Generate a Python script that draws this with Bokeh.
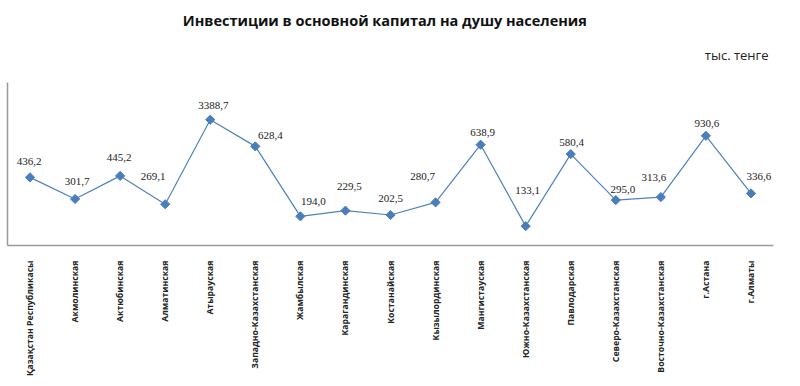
from bokeh.plotting import figure
from bokeh.models import ColumnDataSource, FixedTicker, Title, LabelSet
from bokeh.embed import file_html
from bokeh.resources import INLINE
import math

# ---- data ----
regions = [
    "Қазақстан Республикасы", "Акмолинская", "Актюбинская", "Алматинская",
    "Атырауская", "Западно-Казахстанская", "Жамбылская", "Карагандинская",
    "Костанайская", "Кызылординская", "Мангистауская", "Южно-Казахстанская",
    "Павлодарская", "Северо-Казахстанская", "Восточно-Казахстанская",
    "г.Астана", "г.Алматы",
]
# plotted heights
values = [436.2, 301.7, 445.2, 269.1, 794.0, 628.4, 194.0, 229.5, 202.5,
          280.7, 638.9, 133.1, 580.4, 295.0, 313.6, 694.0, 336.6]
# data labels as printed on the chart
value_labels = ["436,2", "301,7", "445,2", "269,1", "3388,7", "628,4", "194,0",
                "229,5", "202,5", "280,7", "638,9", "133,1", "580,4", "295,0",
                "313,6", "930,6", "336,6"]

# ---- styling: label offsets in pixels (dx right, dy up) ----
label_dx = [-1, 2, -1, -12, 3, 15, 13, 4, 0, -13, 2, 2, 1, 7, -7, 1, 8]
label_dy = [16, 17, 18, 28, 14, 11, 15, 24, 16, 26, 12, 36, 12, 11, 20, 12, 17]

src = ColumnDataSource(dict(x=regions, y=values, lab=value_labels,
                            dx=label_dx, dy=label_dy))

p = figure(width=800, height=386, x_range=regions, y_range=(13, 1025),
           output_backend="svg", toolbar_location=None,
           min_border_left=7, min_border_right=27,
           min_border_top=82, min_border_bottom=141)

p.line("x", "y", source=src, line_color="#4f81bd", line_width=1.2)
p.scatter("x", "y", source=src, marker="square", angle=math.pi / 4, size=6.5,
          fill_color="#4a7ebb", line_color="#4a7ebb")

labels = LabelSet(x="x", y="y", text="lab", source=src,
                  x_offset="dx", y_offset="dy",
                  text_align="center", text_baseline="middle",
                  text_font="Open Sans", text_font_size="11px",
                  text_color="#222222")
p.add_layout(labels)

p.grid.visible = False
p.outline_line_color = None
p.background_fill_color = "white"
p.border_fill_color = "white"

xa = p.xaxis[0]
xa.axis_line_color = "#9a9a9a"
xa.axis_line_width = 1.5
xa.major_tick_line_color = None
xa.minor_tick_line_color = None
xa.major_label_orientation = math.pi / 2
xa.major_label_text_font = "Open Sans"
xa.major_label_text_font_style = "bold"
xa.major_label_text_font_size = "8.7px"
xa.major_label_text_color = "#222222"
xa.major_label_standoff = 9

ya = p.yaxis[0]
ya.ticker = FixedTicker(ticks=[])
ya.axis_line_color = "#9a9a9a"
ya.axis_line_width = 1.5
ya.major_tick_line_color = None
ya.minor_tick_line_color = None
ya.major_label_text_font_size = "0px"

p.title.visible = False
unit = Title(text="тыс. тенге", align="right", text_font="Open Sans",
             text_font_size="13px", text_font_style="normal",
             text_color="#222222", offset=5, standoff=37)
p.add_layout(unit, "above")
main = Title(text="Инвестиции  в основной  капитал  на душу населения",
             align="center", text_font="Open Sans", text_font_size="14.5px",
             text_font_style="bold", text_color="#111111", offset=-7,
             standoff=-9)
p.add_layout(main, "above")

open("out.html", "w").write(file_html(p, INLINE))
